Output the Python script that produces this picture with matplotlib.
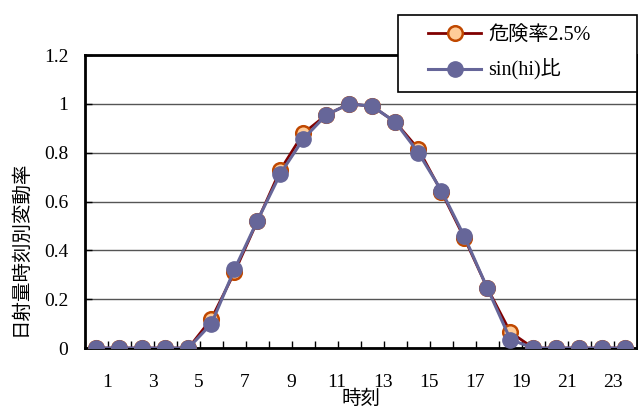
import matplotlib.pyplot as plt
from matplotlib.legend_handler import HandlerLine2D

plt.rcParams['font.family'] = ['Liberation Serif', 'Noto Sans CJK JP']

hours = list(range(1, 25))
risk_25 = [0, 0, 0, 0, 0, 0.12, 0.31, 0.52, 0.73, 0.88, 0.955, 1.0,
           0.99, 0.925, 0.815, 0.64, 0.45, 0.245, 0.065, 0, 0, 0, 0, 0]
sin_ratio = [0, 0, 0, 0, 0, 0.10, 0.322, 0.522, 0.714, 0.857, 0.955, 1.0,
             0.99, 0.925, 0.80, 0.645, 0.457, 0.245, 0.035, 0, 0, 0, 0, 0]
label_hours = list(range(1, 24, 2))
xtick_labels = [str(h) for h in label_hours]


# legend handle with some empty room on its left, as in the original
class PaddedHandler(HandlerLine2D):
    def create_artists(self, legend, orig_handle, xdescent, ydescent,
                       width, height, fontsize, trans):
        pad = 0.26 * width
        return super().create_artists(legend, orig_handle, xdescent - pad,
                                      ydescent, width - pad, height,
                                      fontsize, trans)


fig = plt.figure(figsize=(6.38, 4.09), dpi=100)
ax = fig.add_axes([0.1332, 0.149, 0.865, 0.7165])

l1, = ax.plot(hours, risk_25, color='#800000', lw=2, marker='o', ms=10.5,
              mfc='#FFCC99', mec='#C04800', mew=1.8, label='危険率2.5%', zorder=3)
l2, = ax.plot(hours, sin_ratio, color='#666699', lw=2.2, marker='o', ms=11,
              mfc='#666699', mec='#666699', label='sin(hi)比', zorder=4)

ax.set_xlim(0.5, 24.5)
ax.set_ylim(0, 1.2)
ax.set_yticks([0, 0.2, 0.4, 0.6, 0.8, 1.0, 1.2])
ax.set_yticklabels(['0', '0.2', '0.4', '0.6', '0.8', '1', '1.2'])
# labels sit a bit right of the category centres, like the original
ax.set_xticks([h + 0.45 for h in label_hours])
ax.set_xticklabels(xtick_labels)
ax.set_xticks([h + 0.5 for h in range(0, 25)], minor=True)
ax.tick_params(axis='x', which='major', length=0, pad=19, labelsize=14)
ax.tick_params(axis='x', which='minor', direction='in', length=5, width=1)
ax.tick_params(axis='y', direction='in', length=5, width=1, pad=12, labelsize=14)

ax.grid(axis='y', color='#555555', lw=1)
ax.set_axisbelow(True)
for s in ax.spines.values():
    s.set_linewidth(2)
    s.set_color('black')

ax.set_ylabel('日射量時刻別変動率', fontsize=14)
ax.yaxis.set_label_coords(-0.1, 0.341)
ax.set_xlabel('時刻', fontsize=14)
ax.xaxis.set_label_coords(0.5, -0.143)

leg = ax.legend(handles=[l1, l2], loc='upper left',
                bbox_to_anchor=(0.567, 0.8805, 0.433, 0.256),
                mode='expand', borderaxespad=0, fontsize=14.5, frameon=True,
                fancybox=False, edgecolor='black', framealpha=1, borderpad=0.55,
                labelspacing=0.7, handlelength=3.6, handletextpad=0.35,
                handler_map={l1: PaddedHandler(), l2: PaddedHandler()})
leg.get_frame().set_linewidth(1.2)

fig.savefig('out.png', dpi=100)
